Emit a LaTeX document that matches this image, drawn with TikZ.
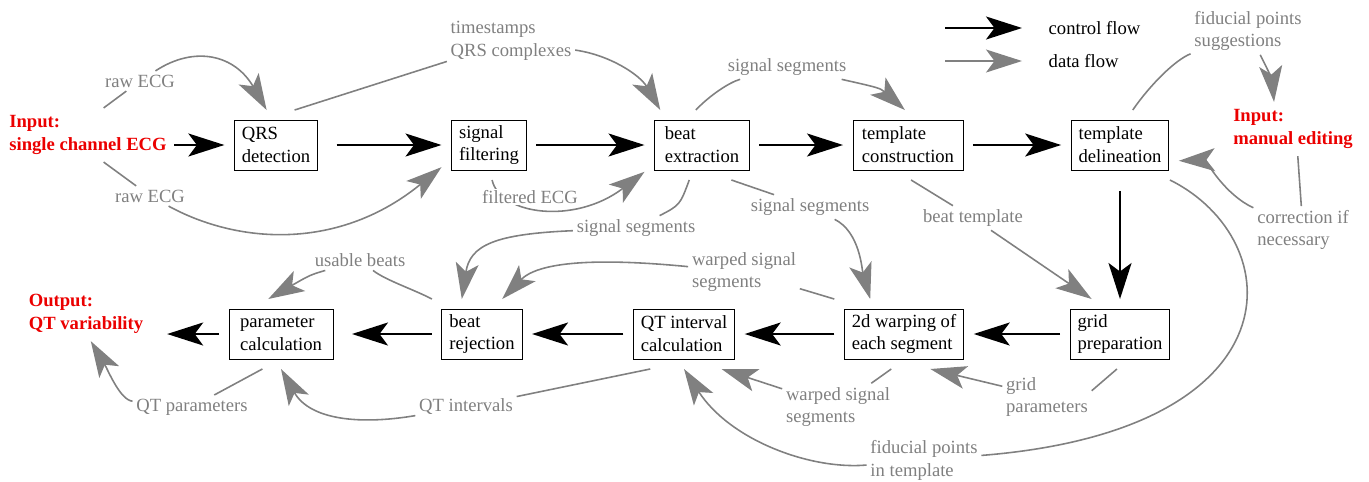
\documentclass[tikz,border=0pt]{standalone}
\usepackage{fontspec}
\setmainfont{Liberation Serif}
\usetikzlibrary{positioning,arrows.meta}
\definecolor{flowgray}{RGB}{128,128,128}
\definecolor{ioRed}{RGB}{235,0,0}

\begin{document}
\begin{tikzpicture}[x=0.02cm, y=-0.02cm,
  font=\fontsize{10.6pt}{13pt}\selectfont,
  >={Stealth[length=0.72cm, width=0.46cm, inset=0.17cm]},
  block/.style={rectangle, draw, line width=0.5pt, align=left, minimum height=1cm,
    inner xsep=0.15cm, inner ysep=0.1cm, outer sep=0.2cm},
  io/.style={text=ioRed, font=\fontsize{10.6pt}{13pt}\selectfont\bfseries, align=left,
    inner sep=2pt, outer sep=0.08cm},
  lbl/.style={text=flowgray, align=left, inner sep=2pt},
  ctrl/.style={->, line width=1.1pt},
  data/.style={->, draw=flowgray, line width=0.9pt}]
  \useasboundingbox (0,0) rectangle (1369,481);

  % Processing steps
  \node[block] (qrs) at (276,145) {QRS\\detection};
  \node[block] (filt) at (489,145) {signal\\filtering};
  \node[block, minimum width=1.9cm] (beat) at (702,145) {beat\\extraction};
  \node[block, minimum width=2.2cm] (constr) at (908,145) {template\\construction};
  \node[block] (delin) at (1120,145) {template\\delineation};
  \node[block] (grid) at (1120,334) {grid\\preparation};
  \node[block] (warp) at (904,334) {2d warping of\\each segment};
  \node[block] (qt) at (684,334) {QT interval\\calculation};
  \node[block] (rej) at (482,334) {beat\\rejection};
  \node[block, minimum width=2.08cm] (param) at (281,334) {parameter\\calculation};

  % Inputs and output
  \node[io] (input) at (88,135) {Input:\\single channel ECG};
  \node[io] (output) at (86,314) {Output:\\QT variability};
  \node[io] (manual) at (1293,129) {Input:\\manual editing};

  % Data labels
  \node[lbl] (rawup) at (140,81) {raw ECG};
  \node[lbl] (rawdn) at (150,196) {raw ECG};
  \node[lbl] (stamps) at (511,41) {timestamps\\QRS complexes};
  \node[lbl] (segtop) at (787,67) {signal segments};
  \node[lbl] (segleft) at (636,228) {signal segments};
  \node[lbl] (segright) at (810,207) {signal segments};
  \node[lbl] (warpup) at (744,272) {warped signal\\segments};
  \node[lbl] (tpl) at (973,218) {beat template};
  \node[lbl] (suggest) at (1248,31) {fiducial points\\suggestions};
  \node[lbl] (correct) at (1303,230) {correction if\\necessary};
  \node[lbl] (fidtpl) at (924,460) {fiducial points\\in template};
  \node[lbl] (warpdn) at (838,407) {warped signal\\segments};
  \node[lbl] (gridpar) at (1047,397) {grid\\parameters};
  \node[lbl] (qtint) at (466,407) {QT intervals};
  \node[lbl] (qtpar) at (192,407) {QT parameters};
  \node[lbl] (usable) at (360,260) {usable beats};

  % Legend
  \coordinate (ctrlA) at (945,28);
  \coordinate (ctrlB) at (1022,28);
  \coordinate (dataA) at (945,61);
  \coordinate (dataB) at (1022,61);
  \draw[ctrl] (ctrlA) -- (ctrlB);
  \draw[data] (dataA) -- (dataB);
  \node[right=0.41cm of ctrlB] (ctrlkey) {control flow};
  \node[right=0.41cm of dataB] (datakey) {data flow};

  % Control flow
  \draw[ctrl] (input.east |- qrs.west) -- (qrs.west);
  \draw[ctrl, shorten <=0.18cm] (qrs) -- (filt);
  \draw[ctrl] (filt) -- (beat);
  \draw[ctrl] (beat) -- (constr);
  \draw[ctrl] (constr) -- (delin);
  \draw[ctrl, shorten <=0.22cm] (delin) -- (grid);
  \draw[ctrl] (grid) -- (warp);
  \draw[ctrl] (warp) -- (qt);
  \draw[ctrl] (qt) -- (rej);
  \draw[ctrl, shorten >=0.18cm] (rej) -- (param);
  \draw[ctrl, shorten >=0.33cm] (param.west) -- (output.east |- param.west);

  % Data flow
  \draw[data] (input.60) -- (rawup) .. controls (195,45) and (235,55) .. (qrs.105);
  \draw[data] (input.-60) -- (rawdn) .. controls (240,245) and (340,250) .. (filt.205);
  \draw[data] (qrs.62) -- (stamps) .. controls (610,55) and (640,75) .. (beat.140);
  \draw[data] (beat.100) .. controls (710,95) and (730,82) .. (segtop)
    .. controls (880,88) .. (constr.95);
  \draw[data] (filt.-85) .. controls (500,215) and (575,225) .. (beat.205);
  \draw[data] (beat.-110) .. controls (680,205) .. (segleft)
    .. controls (495,234) and (470,245) .. (rej.120);
  \draw[data] (warp.north west) -- (warpup) .. controls (640,262) and (545,255) .. (rej.60);
  \draw[data] (beat.-50) -- (segright) .. controls (860,232) and (862,270) .. (warp.134);
  \draw[data] (constr.-85) -- (tpl) -- (grid.129);
  \draw[data] (delin.70) .. controls (1150,85) and (1175,60) .. (suggest)
    .. controls (1268,70) and (1272,80) .. (manual.125);
  \draw[data] (manual.-80) -- (correct) .. controls (1225,195) and (1205,160) .. (delin.-15);
  \draw[data] (delin.-35) .. controls (1290,240) and (1300,430) .. (fidtpl)
    .. controls (810,470) and (730,440) .. (qt.south);
  \draw[data] (warp.-110) -- (warpdn) -- (qt.-43);
  \draw[data] (grid.-95) -- (gridpar.8) (gridpar) -- (warp.-53);
  \draw[data] (qt.-134) -- (qtint) .. controls (360,425) and (310,420) .. (param.south);
  \draw[data] (param.-118) -- (qtpar) .. controls (120,400) and (108,370) .. (output.-80);
  \draw[data] (rej.north west) .. controls (415,290) and (385,280) .. (usable)
    .. controls (310,275) .. (param.110);

  % label drawn over its own curve
  \node[lbl, fill=white, inner sep=1pt] (filtecg) at (530,197) {filtered ECG};
\end{tikzpicture}
\end{document}
